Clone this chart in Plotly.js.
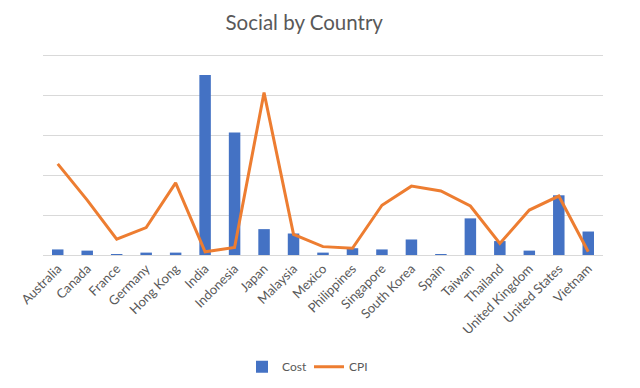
<!DOCTYPE html>
<html>
<head>
<meta charset="utf-8">
<script src="https://cdn.plot.ly/plotly-3.0.1.min.js"></script>
<style>html,body{margin:0;padding:0;background:#fff;}#chart{width:640px;height:388px;}</style>
</head>
<body>
<div id="chart"></div>
<script>
const countries = ["Australia","Canada","France","Germany","Hong Kong","India","Indonesia","Japan","Malaysia","Mexico","Philippines","Singapore","South Korea","Spain","Taiwan","Thailand","United Kingdom","United States","Vietnam"];
const cost = [14, 11, 2.5, 6, 6, 452, 308, 65, 54, 6, 17, 14, 39, 2.5, 92, 35, 11, 150, 59];
const cpi = [2.29, 1.38, 0.40, 0.69, 1.81, 0.08, 0.19, 4.08, 0.52, 0.21, 0.17, 1.25, 1.73, 1.61, 1.23, 0.29, 1.13, 1.48, 0.08];

const font = "Lato, 'Open Sans', sans-serif";
const traces = [
  {type:"bar", name:"Cost", x:countries, y:cost, marker:{color:"#4472c4"}, yaxis:"y"},
  {type:"scatter", mode:"lines", name:"CPI", x:countries, y:cpi, line:{color:"#ed7d31", width:3}, yaxis:"y2"}
];
const layout = {
  width:640, height:388,
  margin:{l:43, r:37, t:52, b:133, autoexpand:false},
  paper_bgcolor:"#fff", plot_bgcolor:"#fff",
  font:{family:font, color:"#595959", size:12},
  title:{text:"Social by Country", font:{family:font, size:20.5, color:"#595959"}, xref:"paper", x:0.4665, xanchor:"center", y:0.94, yanchor:"middle"},
  bargap:0.61,
  xaxis:{tickangle:-45, showline:true, linecolor:"#d9d9d9", linewidth:1, ticks:"", showgrid:false, tickfont:{size:13, color:"#595959"}},
  yaxis:{range:[0,510], tickvals:[100,200,300,400,500], showticklabels:false, gridcolor:"#d9d9d9", gridwidth:1, zeroline:false, showline:false, ticks:""},
  yaxis2:{range:[0,5.1], overlaying:"y", side:"right", showticklabels:false, showgrid:false, zeroline:false, showline:false, ticks:""},
  legend:{orientation:"h", x:0.475, xanchor:"center", y:-0.55, yanchor:"middle", itemwidth:30, entrywidth:22, entrywidthmode:"pixels", font:{size:12, color:"#595959"}},
  showlegend:true
};
Plotly.newPlot("chart", traces, layout, {displayModeBar:false, staticPlot:true});
</script>
</body>
</html>
